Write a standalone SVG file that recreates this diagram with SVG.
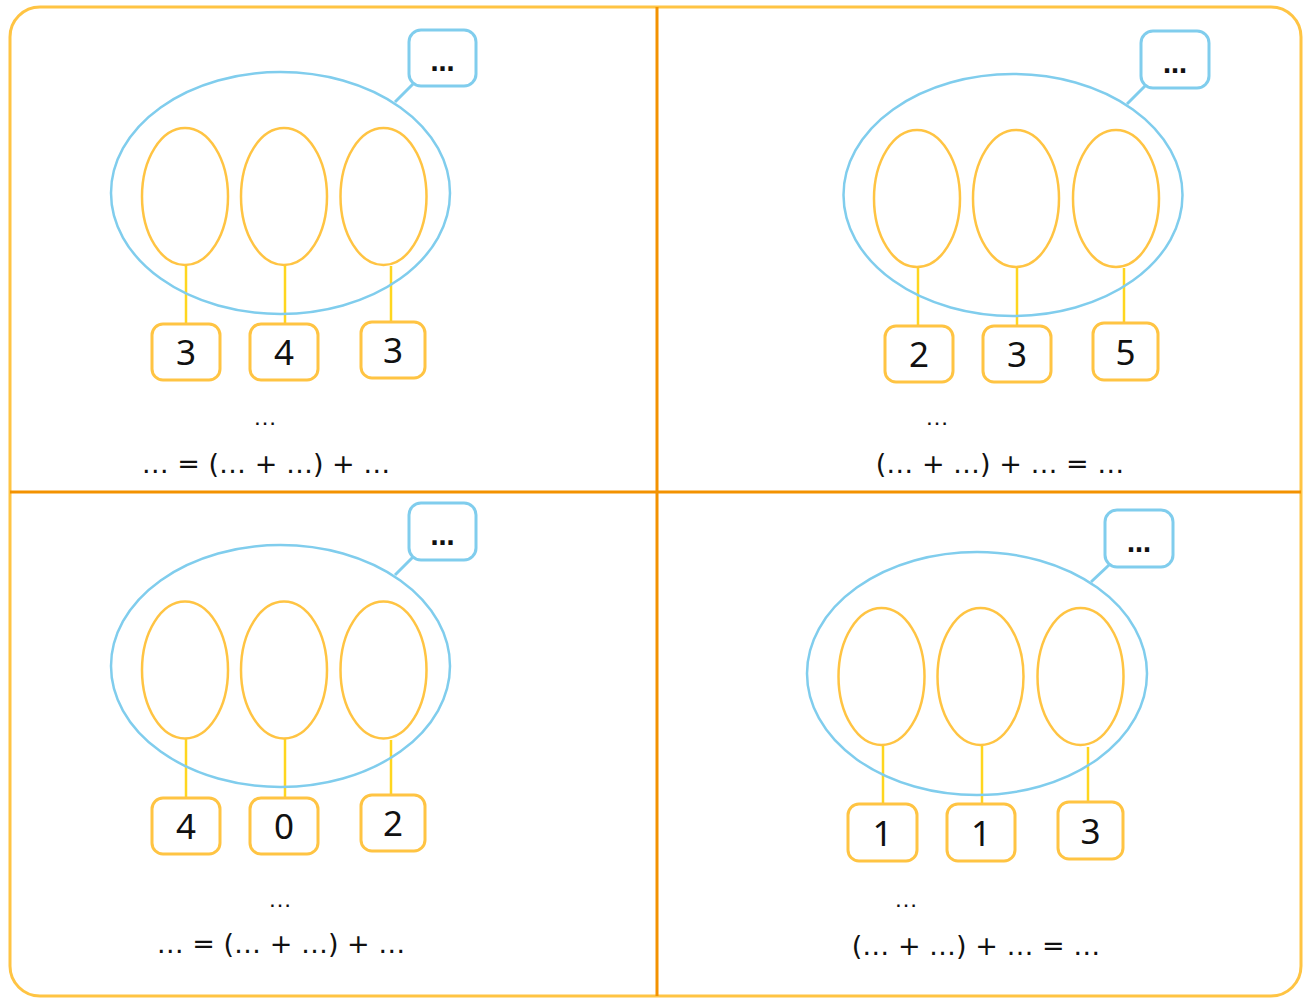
<svg xmlns="http://www.w3.org/2000/svg" width="1303" height="1001" viewBox="0 0 1303 1001">
<style>
.big{fill:none;stroke:#80CDED;stroke-width:2.5}
.sm{fill:none;stroke:#FFC443;stroke-width:2.5}
.call{fill:#fff;stroke:#80CDED;stroke-width:3}
.cl{stroke:#80CDED;stroke-width:3}
.nb{fill:#fff;stroke:#FFC443;stroke-width:3}
.yl{stroke:#FFD61F;stroke-width:2.5}
.num{font-family:"Noto Sans","Liberation Sans",sans-serif;font-size:35px;fill:#111;text-anchor:middle}
.dots{font-family:"DejaVu Sans",sans-serif;font-size:24px;font-weight:bold;fill:#111;text-anchor:middle}
.sd{font-family:"Liberation Sans",sans-serif;font-size:24px;fill:#111;text-anchor:middle}
.eq{font-family:"DejaVu Sans",sans-serif;font-size:27px;fill:#111;text-anchor:middle}
</style>
<rect x="10" y="7" width="1291" height="989" rx="30" fill="#fff" stroke="#FFC443" stroke-width="3"/>
<g id="dividers" stroke="#F39200" stroke-width="3">
<line x1="657" y1="7" x2="657" y2="996"/>
<line x1="10" y1="492" x2="1301" y2="492"/>
</g>
<g id="connectors">
<line class="cl" x1="395" y1="102" x2="413" y2="84"/>
<line class="cl" x1="1127" y1="104" x2="1145" y2="86"/>
<line class="cl" x1="395" y1="575" x2="413" y2="557"/>
<line class="cl" x1="1091" y1="582" x2="1109" y2="565"/>
<line class="yl" x1="186" y1="265" x2="186" y2="324"/>
<line class="yl" x1="285" y1="265" x2="285" y2="324"/>
<line class="yl" x1="391" y1="266" x2="391" y2="322"/>
<line class="yl" x1="918" y1="267" x2="918" y2="326"/>
<line class="yl" x1="1017" y1="267" x2="1017" y2="326"/>
<line class="yl" x1="1124" y1="268" x2="1124" y2="323"/>
<line class="yl" x1="186" y1="738" x2="186" y2="798"/>
<line class="yl" x1="285" y1="738" x2="285" y2="798"/>
<line class="yl" x1="391" y1="740" x2="391" y2="795"/>
<line class="yl" x1="883" y1="745" x2="883" y2="804"/>
<line class="yl" x1="982" y1="745" x2="982" y2="804"/>
<line class="yl" x1="1088" y1="747" x2="1088" y2="802"/>
</g>
<!-- Panel 1 -->
<g id="p1-group"><ellipse class="big" cx="280.5" cy="193" rx="169.5" ry="121"/></g>
<g id="p1-e1"><ellipse class="sm" cx="185" cy="196.5" rx="43" ry="68.5"/></g>
<g id="p1-e2"><ellipse class="sm" cx="284" cy="196.5" rx="43" ry="68.5"/></g>
<g id="p1-e3"><ellipse class="sm" cx="383.5" cy="196.5" rx="43" ry="68.5"/></g>
<g id="p1-call"><rect class="call" x="409" y="30" width="67" height="56" rx="12"/><text class="dots" x="442.5" y="71">…</text></g>
<g id="p1-n1"><rect class="nb" x="152" y="324" width="68" height="56" rx="11"/><text class="num" x="186" y="365">3</text></g>
<g id="p1-n2"><rect class="nb" x="250" y="324" width="68" height="56" rx="11"/><text class="num" x="284" y="365">4</text></g>
<g id="p1-n3"><rect class="nb" x="361" y="322" width="64" height="56" rx="11"/><text class="num" x="393" y="363">3</text></g>
<g id="p1-text"><text class="sd" x="265" y="425">…</text><text class="eq" x="266" y="473">… = (… + …) + …</text></g>
<!-- Panel 2 -->
<g id="p2-group"><ellipse class="big" cx="1013" cy="195" rx="169.5" ry="121"/></g>
<g id="p2-e1"><ellipse class="sm" cx="917" cy="198.5" rx="43" ry="68.5"/></g>
<g id="p2-e2"><ellipse class="sm" cx="1016" cy="198.5" rx="43" ry="68.5"/></g>
<g id="p2-e3"><ellipse class="sm" cx="1116" cy="198.5" rx="43" ry="68.5"/></g>
<g id="p2-call"><rect class="call" x="1141" y="31" width="68" height="57" rx="12"/><text class="dots" x="1175" y="73">…</text></g>
<g id="p2-n1"><rect class="nb" x="885" y="326" width="68" height="56" rx="11"/><text class="num" x="919" y="367">2</text></g>
<g id="p2-n2"><rect class="nb" x="983" y="326" width="68" height="56" rx="11"/><text class="num" x="1017" y="367">3</text></g>
<g id="p2-n3"><rect class="nb" x="1093" y="323" width="65" height="57" rx="11"/><text class="num" x="1125.5" y="365">5</text></g>
<g id="p2-text"><text class="sd" x="937" y="425">…</text><text class="eq" x="1000" y="473">(… + …) + … = …</text></g>
<!-- Panel 3 -->
<g id="p3-group"><ellipse class="big" cx="280.5" cy="666" rx="169.5" ry="121"/></g>
<g id="p3-e1"><ellipse class="sm" cx="185" cy="670" rx="43" ry="68.5"/></g>
<g id="p3-e2"><ellipse class="sm" cx="284" cy="670" rx="43" ry="68.5"/></g>
<g id="p3-e3"><ellipse class="sm" cx="383.5" cy="670" rx="43" ry="68.5"/></g>
<g id="p3-call"><rect class="call" x="409" y="503" width="67" height="57" rx="12"/><text class="dots" x="442.5" y="545">…</text></g>
<g id="p3-n1"><rect class="nb" x="152" y="798" width="68" height="56" rx="11"/><text class="num" x="186" y="839">4</text></g>
<g id="p3-n2"><rect class="nb" x="250" y="798" width="68" height="56" rx="11"/><text class="num" x="284" y="839">0</text></g>
<g id="p3-n3"><rect class="nb" x="361" y="795" width="64" height="56" rx="11"/><text class="num" x="393" y="836">2</text></g>
<g id="p3-text"><text class="sd" x="280" y="907">…</text><text class="eq" x="281" y="953">… = (… + …) + …</text></g>
<!-- Panel 4 -->
<g id="p4-group"><ellipse class="big" cx="977" cy="673.5" rx="170" ry="121.5"/></g>
<g id="p4-e1"><ellipse class="sm" cx="881.5" cy="676.5" rx="43" ry="68.5"/></g>
<g id="p4-e2"><ellipse class="sm" cx="980.5" cy="676.5" rx="43" ry="68.5"/></g>
<g id="p4-e3"><ellipse class="sm" cx="1080.5" cy="676.5" rx="43" ry="68.5"/></g>
<g id="p4-call"><rect class="call" x="1105" y="510" width="68" height="57" rx="12"/><text class="dots" x="1139" y="552">…</text></g>
<g id="p4-n1"><rect class="nb" x="848" y="804" width="69" height="57" rx="11"/><text class="num" x="882.5" y="846">1</text></g>
<g id="p4-n2"><rect class="nb" x="947" y="804" width="68" height="57" rx="11"/><text class="num" x="981" y="846">1</text></g>
<g id="p4-n3"><rect class="nb" x="1058" y="802" width="65" height="57" rx="11"/><text class="num" x="1090.5" y="844">3</text></g>
<g id="p4-text"><text class="sd" x="906" y="907">…</text><text class="eq" x="976" y="955">(… + …) + … = …</text></g>
</svg>
